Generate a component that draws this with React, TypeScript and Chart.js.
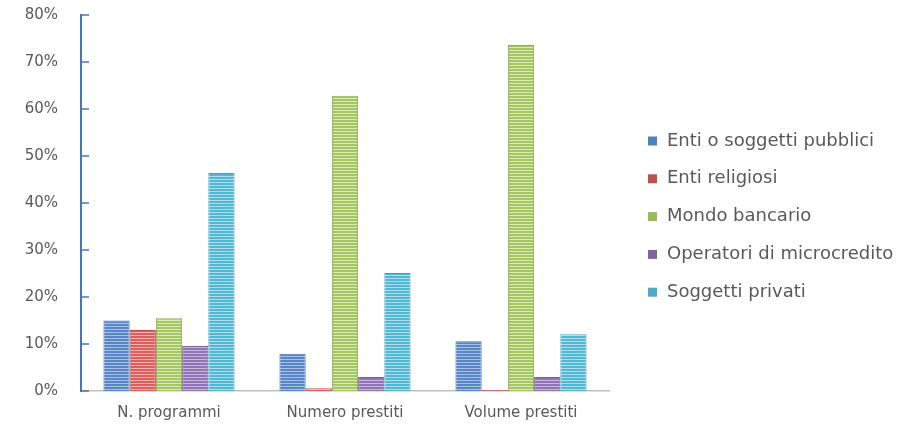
import React, { useEffect, useRef } from "react";
import { Chart, registerables } from "chart.js";

Chart.register(...registerables);

const categories = ["N. programmi", "Numero prestiti", "Volume prestiti"];
const seriesNames = [
  "Enti o soggetti pubblici",
  "Enti religiosi",
  "Mondo bancario",
  "Operatori di microcredito",
  "Soggetti privati",
];
const pubblici = [15.0, 7.9, 10.6];
const religiosi = [13.0, 0.6, 0.2];
const bancario = [15.5, 62.8, 73.6];
const microcredito = [9.6, 3.0, 3.0];
const privati = [46.4, 25.1, 12.1];
const yTicks = [0, 10, 20, 30, 40, 50, 60, 70, 80];

const baseColors = ["#5785c6", "#d9605d", "#a6c565", "#8f74b3", "#52b8d2"];
const stripeColors = ["#a9c3e8", "#f3b0ae", "#d9eab3", "#c9b9e0", "#ace0ee"];
const borderColors = ["#4a74ae", "#b9504d", "#8eaa52", "#775f98", "#43a0b8"];
const legendColors = ["#4f81bd", "#c0504d", "#9bbb59", "#8064a2", "#4bacc6"];

const FONT = "'DejaVu Sans', sans-serif";
const TEXT = "#595959";

function makePattern(base: string, stripe: string): CanvasPattern | string {
  const c = document.createElement("canvas");
  c.width = 4;
  c.height = 3;
  const ctx = c.getContext("2d");
  if (!ctx) return base;
  ctx.fillStyle = base;
  ctx.fillRect(0, 0, 4, 3);
  ctx.fillStyle = stripe;
  ctx.fillRect(0, 2, 4, 1);
  const p = ctx.createPattern(c, "repeat");
  return p || base;
}

const innerTicks = {
  id: "innerTicks",
  afterDatasetsDraw(chart: any) {
    const y = chart.scales.y;
    const ctx = chart.ctx;
    ctx.save();
    ctx.strokeStyle = "#4a76ad";
    ctx.lineWidth = 1.5;
    yTicks.forEach((v) => {
      const py = y.getPixelForValue(v);
      ctx.beginPath();
      ctx.moveTo(y.right, py);
      ctx.lineTo(y.right + 8, py);
      ctx.stroke();
    });
    ctx.restore();
  },
};

const sideLegend = {
  id: "sideLegend",
  afterDraw(chart: any) {
    const ctx = chart.ctx;
    const area = chart.chartArea;
    const step = 37.8;
    const x0 = area.right + 39;
    const yStart = area.top + 126;
    ctx.save();
    ctx.font = `18px ${FONT}`;
    ctx.textBaseline = "middle";
    ctx.textAlign = "left";
    chart.data.datasets.forEach((ds: any, i: number) => {
      const yc = yStart + i * step;
      ctx.fillStyle = legendColors[i];
      ctx.fillRect(x0, yc - 4.5, 9, 9);
      ctx.fillStyle = TEXT;
      ctx.fillText(ds.label, x0 + 19, yc);
    });
    ctx.restore();
  },
};

export default function App() {
  const ref = useRef<HTMLCanvasElement>(null);
  useEffect(() => {
    if (!ref.current) return;
    const values = [pubblici, religiosi, bancario, microcredito, privati];
    const chart = new Chart(ref.current, {
      type: "bar",
      data: {
        labels: categories,
        datasets: values.map((d, i) => ({
          label: seriesNames[i],
          data: d,
          backgroundColor: makePattern(baseColors[i], stripeColors[i]) as any,
          borderColor: borderColors[i],
          borderWidth: 1,
          borderSkipped: "bottom",
          barPercentage: 1,
          categoryPercentage: 0.745,
        })),
      },
      options: {
        animation: false,
        responsive: true,
        maintainAspectRatio: false,
        layout: { padding: { top: 0, left: 0, right: 296, bottom: 0 } },
        plugins: {
          tooltip: { enabled: false },
          legend: { display: false },
        },
        scales: {
          x: {
            grid: { display: false, drawTicks: false },
            border: { display: true, color: "#c0c0c0", width: 1.5 },
            ticks: {
              color: TEXT,
              padding: 13,
              font: { family: FONT, size: 15 },
            },
            afterFit: (s: any) => {
              s.height = 40;
            },
          },
          y: {
            min: 0,
            max: 80,
            grid: { display: false, drawTicks: false },
            border: { display: true, color: "#4a76ad", width: 2 },
            ticks: {
              stepSize: 10,
              padding: 23,
              color: TEXT,
              font: { family: FONT, size: 15 },
              callback: (v: any) => `${v}%`,
            },
            afterFit: (s: any) => {
              s.width = 81;
              s.paddingTop = 15;
            },
          },
        },
      },
      plugins: [innerTicks, sideLegend],
    });
    return () => chart.destroy();
  }, []);
  return (
    <div style={{ position: "fixed", left: 0, top: 0, width: 905, height: 431, background: "#fff" }}>
      <canvas ref={ref} />
    </div>
  );
}
